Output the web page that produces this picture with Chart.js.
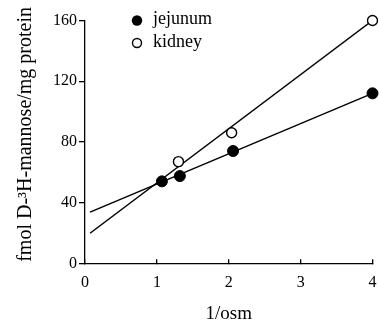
<!DOCTYPE html>
<html>
<head>
<meta charset="utf-8">
<script src="https://cdn.jsdelivr.net/npm/chart.js@4"></script>
<style>
html,body{margin:0;padding:0;background:#fff;}
#wrap{width:379px;height:324px;position:relative;}
</style>
</head>
<body>
<div id="wrap"><canvas id="c" width="379" height="324"></canvas></div>
<script>
// Data
const jejunumX = [1.07, 1.32, 2.06, 4.0];
const jejunumY = [54, 57.5, 74, 112];
const kidneyX = [1.30, 2.04, 4.0];
const kidneyY = [67, 86, 160];
// Regression lines (endpoints as drawn)
const jejFitX = [0.07, 4.0];
const jejFitY = [33.7, 112];
const kidFitX = [0.07, 4.0];
const kidFitY = [19.8, 160];
const xTicks = [0, 1, 2, 3, 4];
const yTicks = [0, 40, 80, 120, 160];
const legendLabels = ['jejunum', 'kidney'];
const xTitle = '1/osm';
const yTitle = '   fmol D-\u00B3H-mannose/mg protein';

const toPts = (xs, ys) => xs.map((x, i) => ({x: x, y: ys[i]}));
const serif = '"Liberation Serif", "Times New Roman", serif';

const legendPlugin = {
  id: 'customLegend',
  afterDatasetsDraw(chart) {
    const ctx = chart.ctx;
    ctx.save();
    ctx.font = '18px ' + serif;
    ctx.fillStyle = '#000';
    ctx.textBaseline = 'middle';
    ctx.textAlign = 'left';
    const cx = 137, ys = [20.5, 43];
    ctx.beginPath(); ctx.arc(cx, ys[0], 5.2, 0, Math.PI * 2); ctx.fill();
    ctx.fillText(legendLabels[0], 153, ys[0] - 1);
    ctx.beginPath(); ctx.arc(cx, ys[1], 4.5, 0, Math.PI * 2);
    ctx.fillStyle = '#fff'; ctx.fill();
    ctx.lineWidth = 1.4; ctx.strokeStyle = '#000'; ctx.stroke();
    ctx.fillStyle = '#000';
    ctx.fillText(legendLabels[1], 153, ys[1] - 1);
    ctx.restore();
  }
};

new Chart(document.getElementById('c'), {
  type: 'scatter',
  data: {
    datasets: [
      {label: legendLabels[0], data: toPts(jejunumX, jejunumY), order: 1,
       pointRadius: 5.5, pointBackgroundColor: '#000', pointBorderColor: '#000', pointBorderWidth: 1, clip: false},
      {label: legendLabels[1], data: toPts(kidneyX, kidneyY), order: 1,
       pointRadius: 5, pointBackgroundColor: '#fff', pointBorderColor: '#000', pointBorderWidth: 1.4, clip: false},
      {type: 'line', label: 'jejFit', data: toPts(jejFitX, jejFitY), order: 2,
       borderColor: '#000', borderWidth: 1.5, pointRadius: 0, fill: false, showLine: true},
      {type: 'line', label: 'kidFit', data: toPts(kidFitX, kidFitY), order: 2,
       borderColor: '#000', borderWidth: 1.5, pointRadius: 0, fill: false, showLine: true}
    ]
  },
  options: {
    responsive: false,
    animation: false,
    devicePixelRatio: 1,
    layout: {padding: {top: 20.5, right: 5.5, bottom: 0, left: 0}},
    plugins: {legend: {display: false}, tooltip: {enabled: false}},
    scales: {
      x: {
        type: 'linear', min: 0, max: 4,
        afterFit: s => { s.height = 60.7; s.paddingLeft = 0; s.paddingRight = 0; },
        afterBuildTicks: s => { s.ticks = xTicks.map(v => ({value: v})); },
        grid: {drawOnChartArea: false, tickLength: -4, color: '#000', lineWidth: 1.3},
        border: {color: '#000', width: 1.3},
        ticks: {color: '#000', font: {family: serif, size: 16}, padding: 14, maxRotation: 0},
        title: {display: true, text: xTitle, color: '#000', font: {family: serif, size: 19, lineHeight: 1}, padding: {top: 0, bottom: 0}}
      },
      y: {
        type: 'linear', min: 0, max: 160,
        afterFit: s => { s.width = 85; s.paddingTop = 0; s.paddingBottom = 0; },
        afterBuildTicks: s => { s.ticks = yTicks.map(v => ({value: v})); },
        grid: {drawOnChartArea: false, tickLength: 6, color: '#000', lineWidth: 1.3},
        border: {color: '#000', width: 1.3},
        ticks: {color: '#000', font: {family: serif, size: 16}, padding: 2},
        title: {display: true, text: yTitle, color: '#000', font: {family: serif, size: 20, lineHeight: 1}, padding: {top: 16, bottom: 0}}
      }
    }
  },
  plugins: [legendPlugin]
});
</script>
</body>
</html>
